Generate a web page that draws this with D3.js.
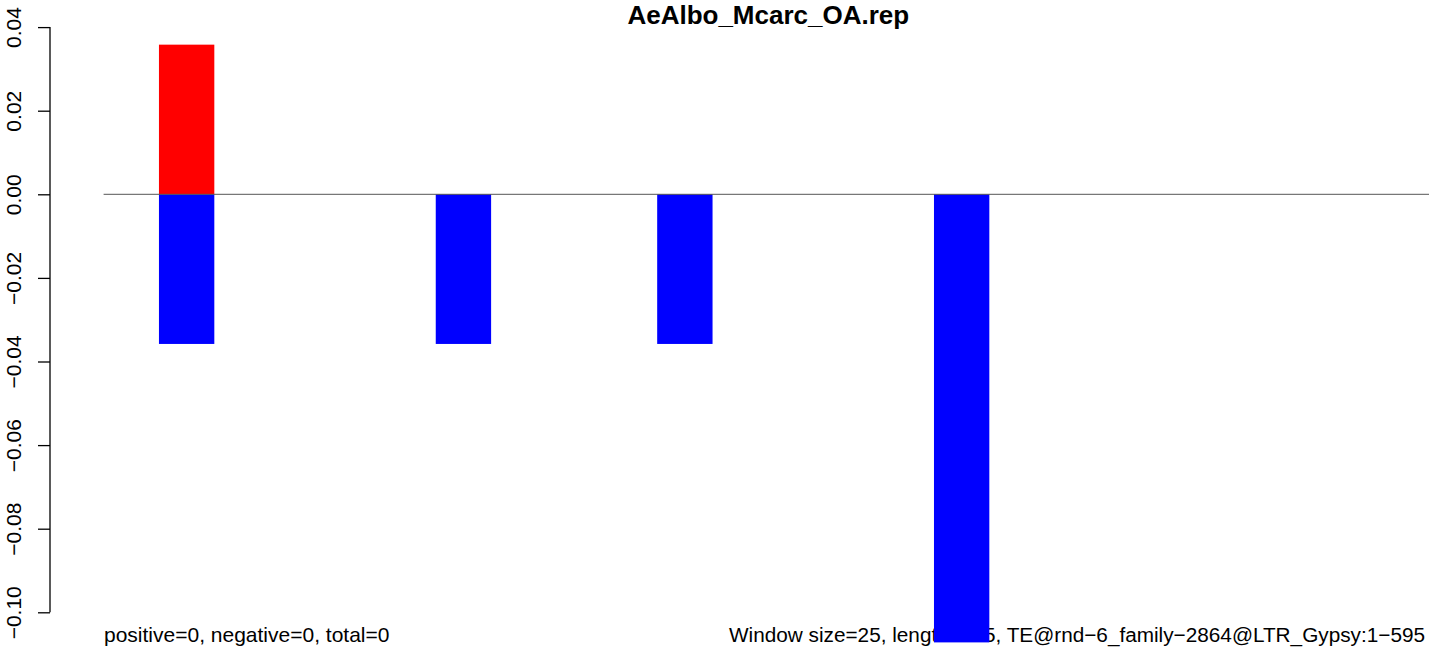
<!DOCTYPE html>
<html>
<head>
<meta charset="utf-8">
<script src="https://cdn.jsdelivr.net/npm/d3@7"></script>
<style>
  html, body { margin: 0; padding: 0; background: #ffffff; }
  svg { display: block; }
  text { font-family: "Liberation Sans", Arial, Helvetica, sans-serif; fill: #000; }
</style>
</head>
<body>
<svg id="chart" width="1429" height="649"></svg>
<script>
// ---- data ----
const chartTitle = "AeAlbo_Mcarc_OA.rep";
const windowCount = 24;
const windowIndex = d3.range(windowCount);
const positiveValues = [0, 0.0358, 0, 0, 0, 0, 0, 0, 0, 0, 0, 0, 0, 0, 0, 0, 0, 0, 0, 0, 0, 0, 0, 0];
const negativeValues = [0, -0.0358, 0, 0, 0, 0, -0.0358, 0, 0, 0, -0.0358, 0, 0, 0, 0, -0.1072, 0, 0, 0, 0, 0, 0, 0, 0];
const yTickValues = [-0.10, -0.08, -0.06, -0.04, -0.02, 0.00, 0.02, 0.04];
const leftNote = "positive=0, negative=0, total=0";
const rightNote = "Window size=25, length=595, TE@rnd\u22126_family\u22122864@LTR_Gypsy:1\u2212595";

// ---- drawing ----
const svg = d3.select("#chart");

const x = d3.scaleLinear().domain([0, windowCount]).range([103.6, 1432.2]);
const y = d3.scaleLinear().domain([-0.10, 0.04]).range([612.3, 27.1]);

// title
svg.append("text")
  .attr("x", 768.3).attr("y", 24)
  .attr("text-anchor", "middle")
  .style("font-weight", "bold")
  .style("font-size", "26px")
  .text(chartTitle);

// bottom notes (drawn before bars, bars overlay them)
svg.append("text")
  .attr("x", 104).attr("y", 641.7)
  .style("font-size", "21px")
  .text(leftNote);
svg.append("text")
  .attr("x", 1425).attr("y", 641.7)
  .attr("text-anchor", "end")
  .style("font-size", "20.75px")
  .text(rightNote);

// y axis
const fmt = v => {
  const s = d3.format(".2f")(Math.abs(v));
  return v < -1e-9 ? "\u2212" + s : s;
};
const yAxis = svg.append("g")
  .attr("transform", "translate(50,0)")
  .call(d3.axisLeft(y).tickValues(yTickValues).tickSize(12).tickSizeOuter(0).tickFormat(fmt));
yAxis.select(".domain").attr("stroke", "#000").attr("stroke-width", 1.3)
  .attr("d", `M0,${y(-0.10)}V${y(0.04)}`);
yAxis.selectAll(".tick line").attr("stroke", "#000").attr("stroke-width", 1.3);
yAxis.selectAll(".tick text")
  .attr("transform", "rotate(-90)")
  .attr("x", 0).attr("y", -29.5).attr("dy", 0)
  .attr("text-anchor", "middle")
  .style("font-family", "'Liberation Sans', Arial, sans-serif")
  .style("font-size", "21px")
  .attr("fill", "#000");

// positive bars
svg.append("g").selectAll("rect")
  .data(windowIndex.filter(i => positiveValues[i] > 0))
  .join("rect")
  .attr("x", i => x(i))
  .attr("width", i => x(i + 1) - x(i))
  .attr("y", i => y(positiveValues[i]))
  .attr("height", i => y(0) - y(positiveValues[i]))
  .attr("fill", "#ff0000");

// negative bars
svg.append("g").selectAll("rect")
  .data(windowIndex.filter(i => negativeValues[i] < 0))
  .join("rect")
  .attr("x", i => x(i))
  .attr("width", i => x(i + 1) - x(i))
  .attr("y", y(0))
  .attr("height", i => y(negativeValues[i]) - y(0))
  .attr("fill", "#0000ff");

// zero line
svg.append("line")
  .attr("x1", x(0)).attr("x2", x(windowCount))
  .attr("y1", y(0)).attr("y2", y(0))
  .attr("stroke", "#555").attr("stroke-width", 1);
</script>
</body>
</html>
